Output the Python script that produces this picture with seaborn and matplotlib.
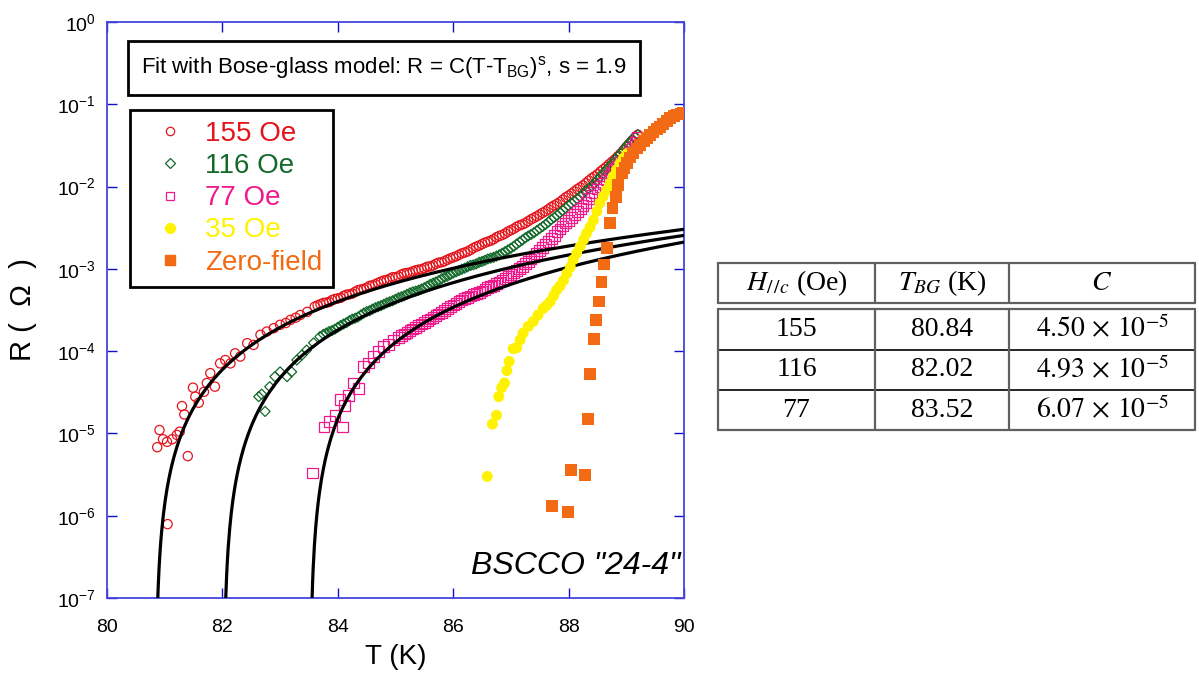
import numpy as np
import matplotlib
matplotlib.use("Agg")
import matplotlib.pyplot as plt
from matplotlib.lines import Line2D
import seaborn as sns

# ---- data ----
t_155 = [80.87, 80.91, 80.97, 81.04, 81.05, 81.13, 81.21, 81.26, 81.30, 81.34, 81.40, 81.49, 81.53,
         81.59, 81.68, 81.73, 81.79, 81.87, 81.96, 82.05, 82.14, 82.22, 82.31, 82.43, 82.54, 82.66,
         82.77, 82.89, 83.00, 83.10, 83.18, 83.27, 83.35, 83.47,
         83.6, 83.7, 83.8, 83.9, 84.0, 84.1, 84.2, 84.3, 84.4, 84.5, 84.6, 84.7, 84.8, 84.9, 85.0,
         85.1, 85.2, 85.3, 85.4, 85.5, 85.6, 85.7, 85.8, 85.9, 86.0, 86.1, 86.2, 86.3, 86.4, 86.5,
         86.6, 86.7, 86.8, 86.9, 87.0, 87.1, 87.2, 87.3, 87.4, 87.5, 87.6, 87.7, 87.8, 87.9, 88.0,
         88.1, 88.2, 88.3, 88.4, 88.5, 88.6, 88.7, 88.8, 88.9, 89.0, 89.1, 89.2]
r_155 = [6.8e-6, 1.1e-5, 8.5e-6, 7.9e-6, 7.9e-7, 8.5e-6, 9.6e-6, 1.05e-5, 2.15e-5, 1.7e-5, 5.3e-6,
         3.6e-5, 2.8e-5, 2.36e-5, 3.2e-5, 4.1e-5, 5.4e-5, 3.7e-5, 7.1e-5, 7.8e-5, 7.1e-5, 9.4e-5,
         8.6e-5, 1.25e-4, 1.19e-4, 1.58e-4, 1.73e-4, 1.9e-4, 2.09e-4, 2.2e-4, 2.4e-4, 2.55e-4,
         2.75e-4, 3.0e-4,
         3.47e-4, 3.72e-4, 3.89e-4, 4.17e-4, 4.37e-4, 4.68e-4, 4.9e-4, 5.25e-4, 5.62e-4, 5.89e-4,
         6.31e-4, 6.76e-4, 7.24e-4, 7.59e-4, 7.94e-4, 8.51e-4, 8.91e-4, 9.33e-4, 9.77e-4, 1.02e-3,
         1.07e-3, 1.15e-3, 1.2e-3, 1.29e-3, 1.38e-3, 1.48e-3, 1.58e-3, 1.7e-3, 1.86e-3, 2.0e-3,
         2.14e-3, 2.29e-3, 2.51e-3, 2.69e-3, 2.95e-3, 3.24e-3, 3.47e-3, 3.8e-3, 4.17e-3, 4.57e-3,
         5.01e-3, 5.62e-3, 6.17e-3, 6.92e-3, 7.76e-3, 8.71e-3, 9.77e-3, 1.1e-2, 1.26e-2, 1.41e-2,
         1.62e-2, 1.86e-2, 2.14e-2, 2.51e-2, 3.02e-2, 3.63e-2, 4.27e-2]
# second pass over the dense part of the band
t_155b = [83.65, 83.75, 83.85, 83.95, 84.05, 84.15, 84.25, 84.35, 84.45, 84.55, 84.65, 84.75, 84.85,
          84.95, 85.05, 85.15, 85.25, 85.35, 85.45, 85.55, 85.65, 85.75, 85.85, 85.95, 86.05, 86.15,
          86.25, 86.35, 86.45, 86.55, 86.65, 86.75, 86.85, 86.95, 87.05, 87.15, 87.25, 87.35, 87.45,
          87.55, 87.65, 87.75, 87.85, 87.95, 88.05, 88.15, 88.25, 88.35, 88.45, 88.55, 88.65, 88.75,
          88.85, 88.95, 89.05, 89.15]
r_155b = [3.6e-4, 3.85e-4, 3.95e-4, 4.3e-4, 4.45e-4, 4.85e-4, 5.0e-4, 5.5e-4, 5.7e-4, 6.2e-4, 6.5e-4,
          7.0e-4, 7.3e-4, 7.9e-4, 8.1e-4, 8.8e-4, 9.0e-4, 9.6e-4, 9.9e-4, 1.06e-3, 1.1e-3, 1.19e-3,
          1.24e-3, 1.34e-3, 1.42e-3, 1.54e-3, 1.63e-3, 1.79e-3, 1.92e-3, 2.08e-3, 2.2e-3, 2.42e-3,
          2.58e-3, 2.84e-3, 3.07e-3, 3.38e-3, 3.6e-3, 4.0e-3, 4.35e-3, 4.8e-3, 5.3e-3, 5.9e-3,
          6.5e-3, 7.4e-3, 8.2e-3, 9.3e-3, 1.03e-2, 1.18e-2, 1.33e-2, 1.52e-2, 1.73e-2, 2.0e-2,
          2.32e-2, 2.75e-2, 3.3e-2, 3.95e-2]

t_116 = [82.63, 82.68, 82.74, 82.82, 82.91, 83.00, 83.12, 83.20, 83.29, 83.38, 83.46, 83.58, 83.69,
         83.8, 83.9, 84.0, 84.1, 84.2, 84.3, 84.4, 84.5, 84.6, 84.7, 84.8, 84.9, 85.0, 85.1, 85.2,
         85.3, 85.4, 85.5, 85.6, 85.7, 85.8, 85.9, 86.0, 86.1, 86.2, 86.3, 86.4, 86.5, 86.6, 86.7,
         86.8, 86.9, 87.0, 87.1, 87.2, 87.3, 87.4, 87.5, 87.6, 87.7, 87.8, 87.9, 88.0, 88.1, 88.2,
         88.3, 88.4, 88.5, 88.6, 88.7, 88.8, 88.9, 89.0, 89.1, 89.2]
r_116 = [2.8e-5, 3.0e-5, 1.85e-5, 3.7e-5, 4.9e-5, 5.6e-5, 4.9e-5, 5.6e-5, 7.8e-5, 9.0e-5, 1.03e-4,
         1.26e-4, 1.5e-4,
         1.66e-4, 1.78e-4, 1.95e-4, 2.14e-4, 2.34e-4, 2.51e-4, 2.75e-4, 3.02e-4, 3.24e-4, 3.47e-4,
         3.72e-4, 3.98e-4, 4.27e-4, 4.57e-4, 4.9e-4, 5.25e-4, 5.5e-4, 5.89e-4, 6.46e-4, 6.92e-4,
         7.59e-4, 8.13e-4, 8.91e-4, 9.55e-4, 1.02e-3, 1.1e-3, 1.15e-3, 1.23e-3, 1.32e-3, 1.38e-3,
         1.48e-3, 1.62e-3, 1.78e-3, 2.0e-3, 2.24e-3, 2.51e-3, 2.75e-3, 3.09e-3, 3.47e-3, 3.98e-3,
         4.47e-3, 5.13e-3, 5.89e-3, 6.61e-3, 7.59e-3, 8.91e-3, 1.02e-2, 1.2e-2, 1.45e-2, 1.74e-2,
         2.09e-2, 2.51e-2, 3.09e-2, 3.72e-2, 4.27e-2]
t_116b = [83.75, 83.85, 83.95, 84.05, 84.15, 84.25, 84.35, 84.45, 84.55, 84.65, 84.75, 84.85, 84.95,
          85.05, 85.15, 85.25, 85.35, 85.45, 85.55, 85.65, 85.75, 85.85, 85.95, 86.05, 86.15, 86.25,
          86.35, 86.45, 86.55, 86.65, 86.75, 86.85, 86.95, 87.05, 87.15, 87.25, 87.35, 87.45, 87.55,
          87.65, 87.75, 87.85, 87.95, 88.05, 88.15, 88.25, 88.35, 88.45, 88.55, 88.65, 88.75, 88.85,
          88.95, 89.05, 89.15]
r_116b = [1.6e-4, 1.73e-4, 1.85e-4, 2.05e-4, 2.22e-4, 2.45e-4, 2.6e-4, 2.9e-4, 3.1e-4, 3.37e-4,
          3.58e-4, 3.87e-4, 4.1e-4, 4.45e-4, 4.7e-4, 5.1e-4, 5.35e-4, 5.7e-4, 6.15e-4, 6.7e-4,
          7.2e-4, 7.9e-4, 8.5e-4, 9.2e-4, 9.9e-4, 1.06e-3, 1.12e-3, 1.2e-3, 1.27e-3, 1.35e-3,
          1.43e-3, 1.55e-3, 1.7e-3, 1.88e-3, 2.12e-3, 2.38e-3, 2.62e-3, 2.92e-3, 3.27e-3, 3.7e-3,
          4.2e-3, 4.8e-3, 5.5e-3, 6.25e-3, 7.1e-3, 8.2e-3, 9.5e-3, 1.1e-2, 1.32e-2, 1.6e-2, 1.9e-2,
          2.3e-2, 2.8e-2, 3.4e-2, 4.0e-2]

t_77 = [83.56, 83.76, 83.86, 83.95, 84.04, 84.08, 84.12, 84.18, 84.27, 84.36, 84.44, 84.53, 84.62,
        84.70, 84.79, 84.88, 84.96,
        85.1, 85.2, 85.3, 85.4, 85.5, 85.6, 85.7, 85.8, 85.9, 86.0, 86.1, 86.2, 86.3, 86.4, 86.5,
        86.6, 86.7, 86.8, 86.9, 87.0, 87.1, 87.2, 87.3, 87.4, 87.5, 87.6, 87.7, 87.8, 87.9, 88.0,
        88.1, 88.2, 88.3, 88.4, 88.5, 88.6, 88.7, 88.8, 88.9, 89.0, 89.1, 89.2]
r_77 = [3.3e-6, 1.2e-5, 1.4e-5, 1.66e-5, 2.6e-5, 1.2e-5, 2.2e-5, 2.9e-5, 4.1e-5, 3.5e-5, 6.5e-5,
        7.2e-5, 8.6e-5, 1.0e-4, 1.13e-4, 1.2e-4, 1.37e-4,
        1.55e-4, 1.7e-4, 1.86e-4, 2.04e-4, 2.24e-4, 2.45e-4, 2.69e-4, 2.95e-4, 3.31e-4, 3.63e-4,
        3.98e-4, 4.37e-4, 4.68e-4, 5.01e-4, 5.37e-4, 5.89e-4, 6.31e-4, 6.92e-4, 7.59e-4, 8.51e-4,
        9.55e-4, 1.07e-3, 1.23e-3, 1.41e-3, 1.66e-3, 2.0e-3, 2.34e-3, 2.82e-3, 3.31e-3, 3.89e-3,
        4.57e-3, 5.37e-3, 6.46e-3, 7.76e-3, 9.33e-3, 1.1e-2, 1.32e-2, 1.62e-2, 1.95e-2, 2.29e-2,
        2.95e-2, 3.98e-2]
t_77b = [85.05, 85.15, 85.25, 85.35, 85.45, 85.55, 85.65, 85.75, 85.85, 85.95, 86.05, 86.15, 86.25,
         86.35, 86.45, 86.55, 86.65, 86.75, 86.85, 86.95, 87.05, 87.15, 87.25, 87.35, 87.45, 87.55,
         87.65, 87.75, 87.85, 87.95, 88.05, 88.15, 88.25, 88.35, 88.45, 88.55, 88.65, 88.75, 88.85,
         88.95, 89.05, 89.15]
r_77b = [1.46e-4, 1.62e-4, 1.78e-4, 1.95e-4, 2.14e-4, 2.35e-4, 2.57e-4, 2.82e-4, 3.12e-4, 3.47e-4,
         3.8e-4, 4.17e-4, 4.52e-4, 4.85e-4, 5.2e-4, 5.6e-4, 6.1e-4, 6.6e-4, 7.25e-4, 8.0e-4, 9.0e-4,
         1.01e-3, 1.15e-3, 1.32e-3, 1.53e-3, 1.82e-3, 2.16e-3, 2.57e-3, 3.05e-3, 3.6e-3, 4.2e-3,
         4.95e-3, 5.9e-3, 7.1e-3, 8.5e-3, 1.01e-2, 1.2e-2, 1.46e-2, 1.77e-2, 2.1e-2, 2.6e-2, 3.4e-2]

t_35 = [86.59, 86.68, 86.75, 86.79, 86.84, 86.89, 86.93, 86.97, 87.04, 87.10, 87.16, 87.21, 87.30,
        87.39, 87.47, 87.56, 87.62, 87.68, 87.74, 87.79, 87.85, 87.91, 87.97, 88.03, 88.08, 88.14,
        88.20, 88.26, 88.31, 88.37, 88.43, 88.49, 88.54, 88.60, 88.66, 88.72, 88.77, 88.83, 88.89,
        88.95, 89.01]
r_35 = [3.0e-6, 1.3e-5, 1.66e-5, 2.8e-5, 3.6e-5, 4.1e-5, 5.8e-5, 7.5e-5, 1.07e-4, 1.1e-4, 1.37e-4,
        1.65e-4, 2.0e-4, 2.3e-4, 2.75e-4, 3.3e-4, 3.6e-4, 4.0e-4, 4.7e-4, 5.5e-4, 6.2e-4, 7.2e-4,
        8.8e-4, 1.05e-3, 1.29e-3, 1.55e-3, 1.86e-3, 2.25e-3, 2.7e-3, 3.2e-3, 3.9e-3, 5.0e-3,
        6.3e-3, 7.6e-3, 9.1e-3, 1.1e-2, 1.32e-2, 1.6e-2, 1.9e-2, 2.2e-2, 2.5e-2]

t_0 = [87.71, 87.99, 88.04, 88.28, 88.34, 88.37, 88.44, 88.48, 88.53, 88.57, 88.61, 88.66, 88.72,
       88.76, 88.82, 88.86, 88.92, 88.97, 89.01, 89.06, 89.12, 89.18, 89.24, 89.30, 89.36, 89.41,
       89.47, 89.53, 89.58, 89.64, 89.70, 89.76, 89.82, 89.88, 89.94, 89.98]
r_0 = [1.32e-6, 1.1e-6, 3.6e-6, 3.1e-6, 1.5e-5, 5.3e-5, 1.4e-4, 2.4e-4, 4.0e-4, 6.9e-4, 1.13e-3,
       1.78e-3, 3.6e-3, 5.5e-3, 7.5e-3, 1.05e-2, 1.47e-2, 1.7e-2, 1.94e-2, 2.25e-2, 2.56e-2, 2.9e-2,
       3.2e-2, 3.6e-2, 3.9e-2, 4.2e-2, 4.6e-2, 5.0e-2, 5.3e-2, 5.8e-2, 6.3e-2, 6.8e-2, 7.2e-2,
       7.5e-2, 7.7e-2, 7.8e-2]

labels = ["155 Oe", "116 Oe", "77 Oe", "35 Oe", "Zero-field"]

# fit table (Bose-glass model R = C (T - T_BG)^s)
fit_fields = ["155", "116", "77"]
fit_tbg = [80.84, 82.02, 83.52]
fit_c = [4.50e-5, 4.93e-5, 6.07e-5]
fit_c_text = [r"$4.50\,\times\,10^{-5}$", r"$4.93\,\times\,10^{-5}$", r"$6.07\,\times\,10^{-5}$"]
fit_s = 1.9
table_header = [r"$H_{/\,/c}$ (Oe)", r"$T_{BG}$ (K)", r"$C$"]

# ---- style ----
sns.set_style("ticks")
plt.rcParams["font.family"] = ["Liberation Sans", "DejaVu Sans"]
plt.rcParams["text.color"] = "black"
plt.rcParams["axes.labelcolor"] = "black"
plt.rcParams["mathtext.fontset"] = "custom"
plt.rcParams["mathtext.rm"] = "Liberation Sans"
plt.rcParams["mathtext.it"] = "Liberation Sans:italic"
plt.rcParams["mathtext.bf"] = "Liberation Sans:bold"

red = "#E3141B"
green = "#13692A"
pink = "#F0198C"
yellow = "#FFF200"
orange = "#F26A14"
blue_spine = "#4444DD"
blue_tick = "#1010CC"

W, H = 1199, 675
fig = plt.figure(figsize=(W / 100, H / 100), dpi=100)
ax = fig.add_axes([107 / W, 1 - 598 / H, 577 / W, 576 / H])

# data series
open_kw = dict(ax=ax, facecolor="none", linewidth=0.9, zorder=2)
sns.scatterplot(x=t_155 + t_155b, y=r_155 + r_155b, marker="o", s=44, color=red, edgecolor=red,
                **open_kw)
sns.scatterplot(x=t_116 + t_116b, y=r_116 + r_116b, marker="D", s=26, color=green,
                edgecolor=green, **open_kw)
sns.scatterplot(x=t_77 + t_77b, y=r_77 + r_77b, marker="s", s=60, color=pink, edgecolor=pink,
                **open_kw)

# fit curves from the table parameters
for tbg, c in zip(fit_tbg, fit_c):
    tt = np.linspace(tbg + 1e-4, 90, 600)
    rr = c * (tt - tbg) ** fit_s
    sns.lineplot(x=tt, y=rr, ax=ax, color="black", lw=2.3, estimator=None, sort=False, zorder=3)

sns.scatterplot(x=t_35, y=r_35, ax=ax, marker="o", s=62, color=yellow, edgecolor="none",
                linewidth=0, zorder=4)
sns.scatterplot(x=t_0, y=r_0, ax=ax, marker="s", s=72, color=orange, edgecolor="none",
                linewidth=0, zorder=5)

ax.set_yscale("log")
ax.set_xlim(80, 90)
ax.set_ylim(1e-7, 1)
ax.set_xticks([80, 82, 84, 86, 88, 90])
ax.set_yticks([1e-7, 1e-6, 1e-5, 1e-4, 1e-3, 1e-2, 1e-1, 1])
ax.minorticks_off()
ax.tick_params(axis="both", which="major", direction="in", length=7, width=1,
               color=blue_tick, labelcolor="black", labelsize=14, top=True, right=True)
ax.tick_params(axis="y", pad=8)
ax.tick_params(axis="x", pad=15)
for sp in ax.spines.values():
    sp.set_color(blue_spine)
    sp.set_linewidth(1.3)
ax.set_xlabel("T (K)", fontsize=20, labelpad=6)
ax.set_ylabel("R (  Ω  )", fontsize=21, labelpad=14)

# legend
handles = [
    Line2D([], [], ls="none", marker="o", ms=6, mfc="none", mec=red, mew=0.9),
    Line2D([], [], ls="none", marker="D", ms=5, mfc="none", mec=green, mew=0.9),
    Line2D([], [], ls="none", marker="s", ms=6, mfc="none", mec=pink, mew=0.9),
    Line2D([], [], ls="none", marker="o", ms=7, mfc=yellow, mec=yellow),
    Line2D([], [], ls="none", marker="s", ms=7, mfc=orange, mec=orange),
]
leg = ax.legend(handles, labels, loc="upper left", bbox_to_anchor=(130 / W, 1 - 110 / H),
                bbox_transform=fig.transFigure, borderaxespad=0, fontsize=20,
                labelcolor=[red, green, pink, yellow, orange], frameon=True, fancybox=False,
                framealpha=1, edgecolor="black", borderpad=0.4, handlelength=2.1,
                handletextpad=0.2, labelspacing=0.22)
leg.get_frame().set_linewidth(2)

# model annotation
fig.text(384 / W, 1 - 68 / H,
         r"Fit with Bose-glass model: R = C(T-T$_{\mathrm{BG}}$)$^{\mathrm{s}}$, s = 1.9",
         ha="center", va="center", fontsize=16,
         bbox=dict(boxstyle="square,pad=0.6", fc="white", ec="black", lw=2))

fig.text(680 / W, 1 - 566 / H, 'BSCCO "24-4"', ha="right", va="center", fontsize=23,
         style="italic")

# parameter table
tab = fig.add_axes([718 / W, 1 - 432 / H, 478 / W, 170 / H])
tab.set_xlim(718, 1196)
tab.set_ylim(432, 262)
tab.axis("off")
gray = "#606060"
col_x = [718.5, 875, 1009, 1195.5]
for y in [262.5, 303, 309, 430]:
    tab.plot([718.5, 1195.5], [y, y], color=gray, lw=1.6, clip_on=False)
for y in [349.5, 390]:
    tab.plot([718.5, 1195.5], [y, y], color="black", lw=1.2, clip_on=False)
for x in col_x:
    tab.plot([x, x], [262.5, 303], color=gray, lw=1.6, clip_on=False)
    tab.plot([x, x], [309, 430], color=gray, lw=1.6, clip_on=False)
col_c = [796.5, 942, 1102]
serif = dict(family=["Liberation Serif", "DejaVu Serif"], math_fontfamily="stix",
             fontsize=20, ha="center", va="center", color="black")
for xc, txt in zip(col_c, table_header):
    tab.text(xc, 283, txt, **serif)
row_c = [329.5, 370, 410.5]
for yc, f, tbg, ct in zip(row_c, fit_fields, fit_tbg, fit_c_text):
    tab.text(col_c[0], yc, f, **serif)
    tab.text(col_c[1], yc, f"{tbg:.2f}", **serif)
    tab.text(col_c[2], yc, ct, **serif)

fig.savefig("out.png", dpi=100)
